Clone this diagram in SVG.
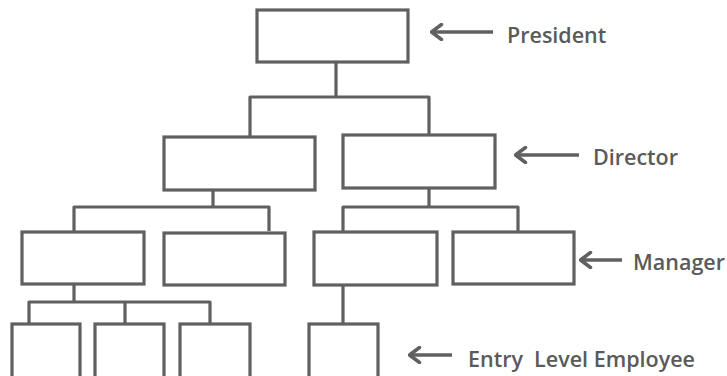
<svg xmlns="http://www.w3.org/2000/svg" width="727" height="376" viewBox="0 0 727 376">
<defs>
<style>
.box{fill:#fff;stroke:#606060;stroke-width:3.2}
.wire{fill:none;stroke:#606060;stroke-width:3.2;stroke-linejoin:round}
.arr{fill:none;stroke:#606060;stroke-width:3.5}
.lbl{font-family:"Open Sans","Liberation Sans",sans-serif;font-weight:600;font-size:21.5px;fill:#5a5a5a}
</style>
<marker id="head" viewBox="0 0 14 18" refX="12.5" refY="9" markerWidth="14" markerHeight="18" markerUnits="userSpaceOnUse" orient="auto">
<path d="M2 1.5 L12 9 L2 16.5" fill="none" stroke="#606060" stroke-width="3.5" stroke-linecap="round" stroke-linejoin="round"/>
</marker>
</defs>
<rect width="727" height="376" fill="#fff"/>
<g id="connectors">
<path class="wire" d="M336 62 V97 M250 136 V97 H429 V134"/>
<path class="wire" d="M213 190 V207 M74 231 V207 H269 V231"/>
<path class="wire" d="M429 188 V207 M343 231 V207 H518 V231"/>
<path class="wire" d="M74 284 V302 M29 323 V302 H210 V323 M125 302 V323"/>
<path class="wire" d="M343 285 V323"/>
</g>
<g id="president"><rect class="box" x="257" y="10" width="151" height="52"/></g>
<g id="director1"><rect class="box" x="164" y="137" width="151" height="53"/></g>
<g id="director2"><rect class="box" x="343" y="135" width="152" height="53"/></g>
<g id="manager1"><rect class="box" x="22" y="232" width="122" height="52"/></g>
<g id="manager2"><rect class="box" x="164" y="233" width="121" height="52"/></g>
<g id="manager3"><rect class="box" x="314" y="232" width="123" height="53"/></g>
<g id="manager4"><rect class="box" x="453" y="232" width="121" height="52"/></g>
<g id="entry1"><rect class="box" x="12" y="324" width="68" height="60"/></g>
<g id="entry2"><rect class="box" x="95" y="324" width="69" height="60"/></g>
<g id="entry3"><rect class="box" x="180" y="324" width="70" height="60"/></g>
<g id="entry4"><rect class="box" x="309" y="324" width="69" height="60"/></g>
<g id="label-president">
<line class="arr" x1="493" y1="32" x2="431" y2="32" marker-end="url(#head)"/>
<text class="lbl" x="507" y="43">President</text>
</g>
<g id="label-director">
<line class="arr" x1="579" y1="155" x2="515" y2="155" marker-end="url(#head)"/>
<text class="lbl" x="593" y="165">Director</text>
</g>
<g id="label-manager">
<line class="arr" x1="622" y1="260" x2="580" y2="260" marker-end="url(#head)"/>
<text class="lbl" x="633" y="270">Manager</text>
</g>
<g id="label-entry">
<line class="arr" x1="452" y1="355" x2="409" y2="355" marker-end="url(#head)"/>
<text class="lbl" x="468" y="367" xml:space="preserve">Entry  Level Employee</text>
</g>
</svg>
